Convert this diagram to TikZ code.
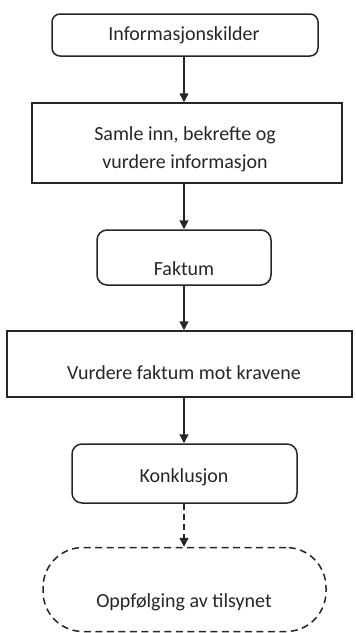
\documentclass[tikz,border=0pt]{standalone}
\usepackage{fontspec}
\setmainfont{Carlito}
\usetikzlibrary{arrows.meta}
\begin{document}
\begin{tikzpicture}[x=1pt,y=-1pt,
  boxline/.style={draw=black!85, line width=1.5pt, inner sep=0pt},
  rbox/.style={boxline, rounded corners=8pt},
  sbox/.style={boxline},
  lbl/.style={font=\fontsize{20}{28}\selectfont, text=black!85, align=center, inner sep=0pt},
  arr/.style={draw=black!85, line width=1.5pt, -{Triangle[width=9pt,length=9pt]}},
  darr/.style={arr, dash pattern=on 6pt off 4pt}]
\useasboundingbox (0,0) rectangle (356,633);
\coordinate (ax) at (184,0);
\node[rbox, minimum width=266pt, minimum height=42pt] (n1) at (185,35) {};
\node[lbl] at (184,35) {Informasjonskilder};
\node[sbox, minimum width=310pt, minimum height=80pt] (n2) at (187,143) {};
\node[lbl] at (185,149) {Samle inn, bekrefte og\\vurdere informasjon};
\node[rbox, rounded corners=10pt, minimum width=174pt, minimum height=55pt] (n3) at (184,257.5) {};
\node[lbl] at (184,269) {Faktum};
\node[sbox, minimum width=345pt, minimum height=66pt] (n4) at (179.5,364) {};
\node[lbl] at (184,373) {Vurdere faktum mot kravene};
\node[rbox, rounded corners=10pt, minimum width=225pt, minimum height=59pt] (n5) at (184.5,473.5) {};
\node[lbl] at (184,477) {Konklusjon};
\node[boxline, dash pattern=on 7pt off 4.5pt, rounded corners=40pt, minimum width=283pt, minimum height=84pt] (n6) at (184.5,589.5) {};
\node[lbl] at (184,602) {Oppfølging av tilsynet};
\draw[arr] (n1.south -| ax) -- (n2.north -| ax);
\draw[arr] (n2.south -| ax) -- (n3.north -| ax);
\draw[arr] (n3.south -| ax) -- (n4.north -| ax);
\draw[arr] (n4.south -| ax) -- (n5.north -| ax);
\draw[darr] (n5.south -| ax) -- (n6.north -| ax);
\end{tikzpicture}
\end{document}
